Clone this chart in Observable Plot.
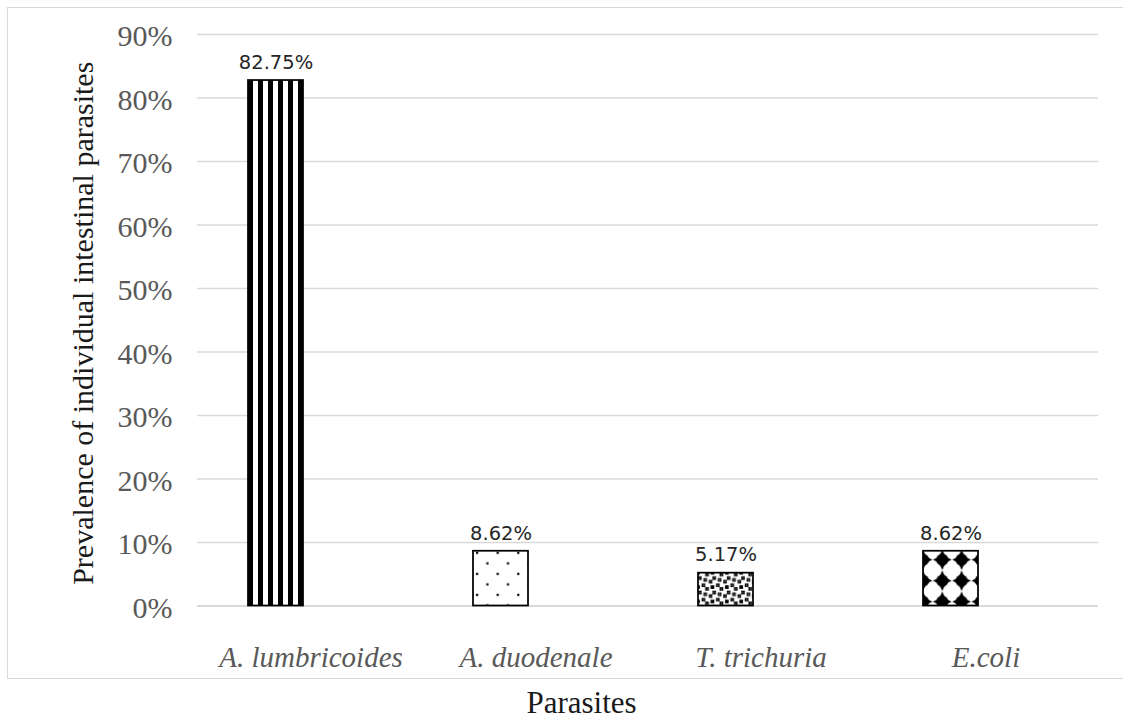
<!DOCTYPE html>
<html>
<head>
<meta charset="utf-8">
<script src="https://cdn.jsdelivr.net/npm/d3@7"></script>
<script src="https://cdn.jsdelivr.net/npm/@observablehq/plot@0.6"></script>
<style>
  body { margin: 0; background: #fff; }
  #chart { position: relative; width: 1123px; height: 726px; overflow: hidden; }
  #frame { position: absolute; left: 7px; top: 7px; width: 1130px; height: 672px;
           border: 1.5px solid #d9d9d9; box-sizing: border-box; pointer-events: none; }
  #chart svg { position: absolute; left: 0; top: 0; }
</style>
</head>
<body>
<div id="chart"><div id="frame"></div></div>
<script>
// Prevalence (%) of each intestinal parasite
const parasites = ["A. lumbricoides", "A. duodenale", "T. trichuria", "E.coli"];
const prevalence = [82.75, 8.62, 5.17, 8.62];
const patternIds = ["stripes", "dots", "confetti", "diamonds"];
const yTicks = [0, 10, 20, 30, 40, 50, 60, 70, 80, 90];
const yTitle = "Prevalence of individual intestinal parasites";
const xTitle = "Parasites";

const rows = parasites.map((name, i) => ({
  name,
  value: prevalence[i],
  pattern: `url(#${patternIds[i]})`
}));

const serif = "'Liberation Serif', 'Times New Roman', serif";

const plot = Plot.plot({
  width: 1123,
  height: 726,
  marginLeft: 197,
  marginRight: 25,
  marginTop: 34,
  marginBottom: 120.5,
  x: { domain: parasites, padding: 0, axis: null },
  y: { domain: [0, 90], axis: null },
  color: { type: "identity" },
  marks: [
    Plot.gridY(yTicks.filter(d => d > 0), { stroke: "#d9d9d9", strokeOpacity: 1, strokeWidth: 1.3 }),
    Plot.ruleY([0], { stroke: "#d9d9d9", strokeWidth: 2 }),
    Plot.axisY(yTicks, {
      tickSize: 0, tickPadding: 25, tickFormat: d => `${d}%`, label: null,
      fontSize: 30, fontFamily: serif, fill: "#595959", dy: 2
    }),
    Plot.axisX({
      tickSize: 0, tickPadding: 40, label: null,
      fontSize: 29, fontFamily: serif, fontStyle: "italic", fill: "#595959"
    }),
    Plot.barY(rows, {
      x: "name", y: "value", fill: "pattern",
      stroke: "#000", strokeWidth: 1.75,
      insetLeft: 50, insetRight: 120
    }),
    Plot.text(rows, {
      x: "name", y: "value", text: d => `${d.value.toFixed(2)}%`,
      dx: -35, dy: -18, fontSize: 19.5, fontFamily: "'DejaVu Sans', sans-serif", fill: "#262626"
    }),
    Plot.text([yTitle], {
      frameAnchor: "left", textAnchor: "middle", rotate: -90, dx: -114, dy: 3,
      fontSize: 30, fontFamily: serif, fill: "#1a1a1a"
    }),
    Plot.text([xTitle], {
      frameAnchor: "bottom", dx: -66.5, dy: 106.5,
      fontSize: 31, fontFamily: serif, fill: "#1a1a1a"
    })
  ]
});

const svgEl = plot.tagName.toLowerCase() === "svg" ? plot : plot.querySelector("svg");
const svg = d3.select(svgEl);
const defs = svg.insert("defs", ":first-child");

// Vertical stripes
const pStripes = defs.append("pattern").attr("id", "stripes")
  .attr("patternUnits", "userSpaceOnUse").attr("width", 10).attr("height", 10);
pStripes.append("rect").attr("width", 10).attr("height", 10).attr("fill", "#fff");
pStripes.append("rect").attr("width", 5).attr("height", 10).attr("fill", "#000");

// Sparse staggered dots
const pDots = defs.append("pattern").attr("id", "dots")
  .attr("patternUnits", "userSpaceOnUse").attr("width", 20.6).attr("height", 21);
pDots.append("rect").attr("width", 20.6).attr("height", 21).attr("fill", "#fff");
pDots.append("rect").attr("x", 3).attr("y", 1).attr("width", 2.2).attr("height", 2.2).attr("fill", "#000");
pDots.append("rect").attr("x", 13.3).attr("y", 11.5).attr("width", 2.2).attr("height", 2.2).attr("fill", "#000");

// Large confetti (8x8 bitmap)
const confettiBits = [0x8d, 0x0c, 0xc0, 0xd8, 0x1b, 0x03, 0x30, 0xb1];
const cell = 1.8;
const pConf = defs.append("pattern").attr("id", "confetti")
  .attr("patternUnits", "userSpaceOnUse").attr("width", 8 * cell).attr("height", 8 * cell);
pConf.append("rect").attr("width", 8 * cell).attr("height", 8 * cell).attr("fill", "#fff");
confettiBits.forEach((bits, r) => {
  for (let c = 0; c < 8; c++) {
    if (bits & (0x80 >> c)) {
      pConf.append("rect").attr("x", c * cell).attr("y", r * cell)
        .attr("width", cell + 0.05).attr("height", cell + 0.05).attr("fill", "#000");
    }
  }
});

// Diamonds: a black four-point shape with slightly bowed sides in each tile
const dw = 19.3, dh = 21;
const pDia = defs.append("pattern").attr("id", "diamonds")
  .attr("patternUnits", "userSpaceOnUse").attr("width", dw).attr("height", dh);
pDia.append("rect").attr("width", dw).attr("height", dh).attr("fill", "#fff");
const cx = dw / 2, cy = dh / 2, a = 9.4, b = 10.2, k = 2.6;
pDia.append("path").attr("fill", "#000").attr("d",
  `M${cx - a},${cy} Q${cx - k},${cy - k} ${cx},${cy - b} Q${cx + k},${cy - k} ${cx + a},${cy} ` +
  `Q${cx + k},${cy + k} ${cx},${cy + b} Q${cx - k},${cy + k} ${cx - a},${cy} Z`);
pDia.append("circle").attr("cx", cx).attr("cy", cy).attr("r", 6).attr("fill", "#000");

// Anchor each pattern at its bar's top-left corner
const offsets = { stripes: [0, 0], dots: [0, 0], confetti: [0, 0], diamonds: [-dw / 2, -1.5] };
svg.selectAll("g[aria-label='bar'] rect").each(function (d, i) {
  const r = d3.select(this);
  const id = patternIds[i];
  const [ox, oy] = offsets[id];
  defs.select(`#${id}`)
    .attr("x", +r.attr("x") + ox)
    .attr("y", +r.attr("y") + oy);
});

document.getElementById("chart").appendChild(plot);
</script>
</body>
</html>
